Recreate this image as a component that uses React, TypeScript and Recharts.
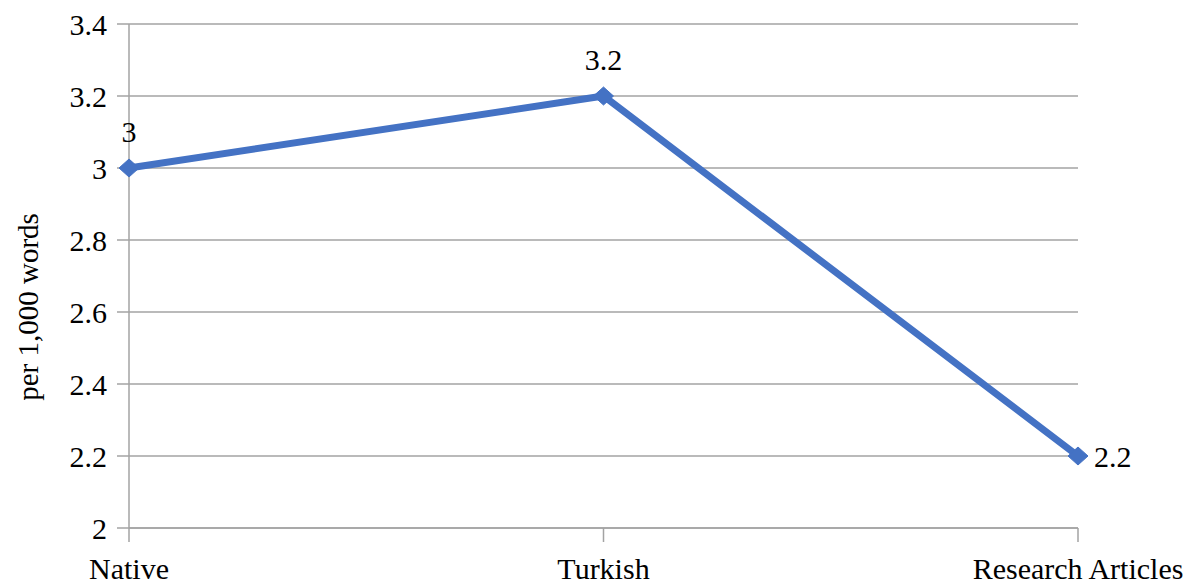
import React from "react";
import { LineChart, Line, XAxis, YAxis, CartesianGrid, LabelList } from "recharts";

const categories = ["Native", "Turkish", "Research Articles"];
const values = [3, 3.2, 2.2];
const yTicks = [2, 2.2, 2.4, 2.6, 2.8, 3, 3.2, 3.4];
const yLabel = "per 1,000 words";

const data = categories.map((c, i) => ({ name: c, value: values[i] }));

const FONT = "'Liberation Serif', 'Times New Roman', serif";
const GRID = "#a3a3a3";
const LINE = "#4472C4";

const Diamond = (props: any) => {
  const { cx, cy } = props;
  if (cx == null || cy == null) return null;
  const w = 10;
  const h = 9;
  return (
    <polygon
      points={`${cx},${cy - h} ${cx + w},${cy} ${cx},${cy + h} ${cx - w},${cy}`}
      fill={LINE}
      stroke={LINE}
      strokeWidth={1}
    />
  );
};

const ValueLabel = (props: any) => {
  const { x, y, value, index } = props;
  const last = index === categories.length - 1;
  if (last) {
    return (
      <text x={x + 16} y={y} dy="0.36em" textAnchor="start" fontFamily={FONT} fontSize={30} fill="#000">
        {value}
      </text>
    );
  }
  return (
    <text x={x} y={y - 26} textAnchor="middle" fontFamily={FONT} fontSize={30} fill="#000">
      {value}
    </text>
  );
};

const YLabel = (props: any) => {
  const { viewBox } = props;
  const cx = 28;
  const cy = viewBox.y + viewBox.height / 2 + 31;
  return (
    <text
      x={cx}
      y={cy}
      transform={`rotate(-90, ${cx}, ${cy})`}
      textAnchor="middle"
      dominantBaseline="central"
      fontFamily={FONT}
      fontSize={29}
      fill="#000"
    >
      {yLabel}
    </text>
  );
};

export default function App() {
  return (
    <div style={{ position: "fixed", left: 0, top: 0, width: 1187, height: 584, background: "#fff" }}>
      <LineChart width={1187} height={584} data={data} margin={{ top: 24, right: 109, bottom: 0, left: 0 }}>
        <CartesianGrid horizontal vertical={false} stroke={GRID} strokeWidth={1.5} />
        <XAxis
          dataKey="name"
          type="category"
          scale="point"
          padding={{ left: 0, right: 0 }}
          height={56}
          interval={0}
          axisLine={{ stroke: GRID, strokeWidth: 1.5 }}
          tickLine={{ stroke: GRID, strokeWidth: 1.5 }}
          tickSize={14}
          tickMargin={16}
          tick={{ fontFamily: FONT, fontSize: 30, fill: "#000" }}
        />
        <YAxis
          type="number"
          domain={[2, 3.4]}
          ticks={yTicks}
          interval={0}
          width={129}
          axisLine={{ stroke: GRID, strokeWidth: 1.5 }}
          tickLine={{ stroke: GRID, strokeWidth: 1.5 }}
          tickSize={12}
          tickMargin={10}
          tick={{ fontFamily: FONT, fontSize: 30, fill: "#000" }}
          label={<YLabel />}
        />
        <Line
          type="linear"
          dataKey="value"
          stroke={LINE}
          strokeWidth={7}
          dot={<Diamond />}
          activeDot={false}
          isAnimationActive={false}
        >
          <LabelList dataKey="value" content={<ValueLabel />} />
        </Line>
      </LineChart>
    </div>
  );
}
